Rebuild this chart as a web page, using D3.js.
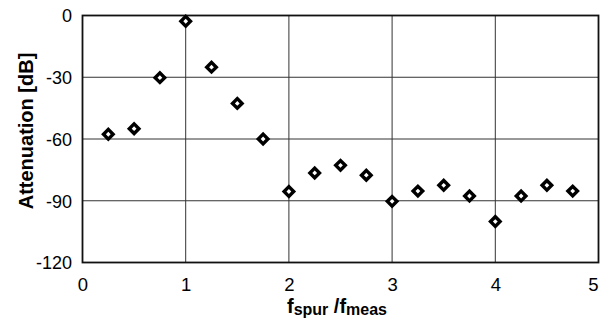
<!DOCTYPE html>
<html><head><meta charset="utf-8">
<script src="https://cdn.jsdelivr.net/npm/d3@7"></script>
<style>body{margin:0;background:#fff}svg{display:block}text{font-family:Arial,"Liberation Sans",sans-serif}</style>
</head><body><svg id="c" width="607" height="329"></svg>
<script>
const xValues = [0.25,0.5,0.75,1.0,1.25,1.5,1.75,2.0,2.25,2.5,2.75,3.0,3.25,3.5,3.75,4.0,4.25,4.5,4.75];
const attenuation = [-57.7,-55,-30.2,-2.8,-25.1,-42.7,-60,-85.5,-76.5,-72.8,-77.6,-90.3,-85.3,-82.5,-87.7,-100.1,-87.7,-82.5,-85.3];
const xTicks = [0,1,2,3,4,5];
const yTicks = [0,-30,-60,-90,-120];

const svg = d3.select("#c");
const L=82.5, R=598.5, T=15.5, B=262.5;
const x = d3.scaleLinear().domain([0,5]).range([L,R]);
const y = d3.scaleLinear().domain([-120,0]).range([B,T]);

// gridlines
svg.append("g").selectAll("line").data(xTicks.slice(1,-1)).join("line")
  .attr("x1",d=>x(d)).attr("x2",d=>x(d)).attr("y1",T).attr("y2",B)
  .attr("stroke","#333").attr("stroke-width",1);
svg.append("g").selectAll("line").data(yTicks.slice(1,-1)).join("line")
  .attr("y1",d=>y(d)).attr("y2",d=>y(d)).attr("x1",L).attr("x2",R)
  .attr("stroke","#333").attr("stroke-width",1);
svg.append("rect").attr("x",L).attr("y",T).attr("width",R-L).attr("height",B-T)
  .attr("fill","none").attr("stroke","#111").attr("stroke-width",1.8);

// axes (labels only)
const xa = svg.append("g").attr("transform",`translate(0,${B})`)
  .call(d3.axisBottom(x).tickValues(xTicks).tickSize(0).tickPadding(0).tickFormat(d=>String(d)));
xa.select(".domain").remove();
xa.selectAll("text").attr("font-size",18.5).attr("fill","#000").attr("dy","0").attr("y",28)
  .attr("dx",d=>d===5?-5.5:0);
const ya = svg.append("g").attr("transform",`translate(${L},0)`)
  .call(d3.axisLeft(y).tickValues(yTicks).tickSize(0).tickPadding(10.5).tickFormat(d=>String(d)));
ya.select(".domain").remove();
ya.selectAll("text").attr("font-size",18).attr("fill","#000").attr("dy","0.35em");

// markers
const sym = d3.symbol().type(d3.symbolSquare).size(46);
svg.append("g").selectAll("path").data(xValues.map((v,i)=>[v,attenuation[i]])).join("path")
  .attr("d",sym)
  .attr("transform",d=>`translate(${x(d[0])},${y(d[1])}) rotate(45)`)
  .attr("fill","#fff").attr("stroke","#000").attr("stroke-width",3.4);

// titles
svg.append("text").attr("transform",`translate(33,131) rotate(-90)`)
  .attr("text-anchor","middle").attr("font-size",20).attr("font-weight","bold").text("Attenuation [dB]");
const xt = svg.append("text").attr("x",337).attr("y",313).attr("text-anchor","middle")
  .attr("font-size",20).attr("font-weight","bold");
xt.append("tspan").text("f");
xt.append("tspan").attr("font-size",16).attr("dy",2).text("spur");
xt.append("tspan").attr("dy",-2).text(" /f");
xt.append("tspan").attr("font-size",16).attr("dy",2).text("meas");
</script></body></html>
